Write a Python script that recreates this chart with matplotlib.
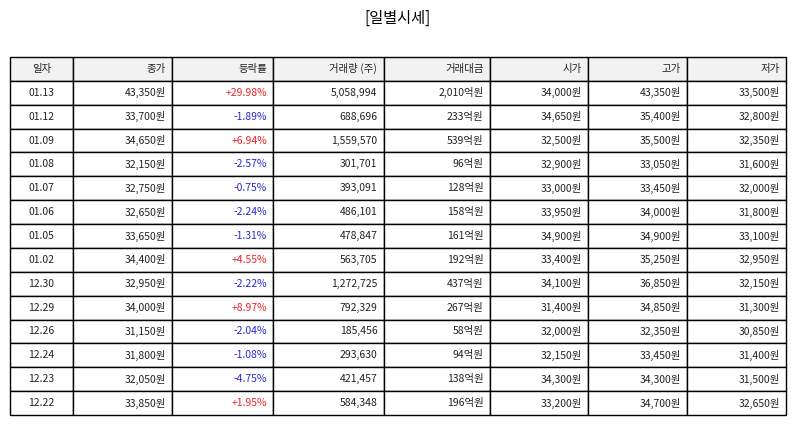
import matplotlib
matplotlib.use("Agg")
import matplotlib.pyplot as plt

plt.rcParams['font.family'] = ['Noto Sans CJK KR', 'DejaVu Sans']

headers = ["일자", "종가", "등락률", "거래량 (주)", "거래대금", "시가", "고가", "저가"]
dates = ["01.13","01.12","01.09","01.08","01.07","01.06","01.05","01.02","12.30","12.29","12.26","12.24","12.23","12.22"]
close = ["43,350원","33,700원","34,650원","32,150원","32,750원","32,650원","33,650원","34,400원","32,950원","34,000원","31,150원","31,800원","32,050원","33,850원"]
change = ["+29.98%","-1.89%","+6.94%","-2.57%","-0.75%","-2.24%","-1.31%","+4.55%","-2.22%","+8.97%","-2.04%","-1.08%","-4.75%","+1.95%"]
volume = ["5,058,994","688,696","1,559,570","301,701","393,091","486,101","478,847","563,705","1,272,725","792,329","185,456","293,630","421,457","584,348"]
amount = ["2,010억원","233억원","539억원","96억원","128억원","158억원","161억원","192억원","437억원","267억원","58억원","94억원","138억원","196억원"]
open_ = ["34,000원","34,650원","32,500원","32,900원","33,000원","33,950원","34,900원","33,400원","34,100원","31,400원","32,000원","32,150원","34,300원","33,200원"]
high = ["43,350원","35,400원","35,500원","33,050원","33,450원","34,000원","34,900원","35,250원","36,850원","34,850원","32,350원","33,450원","34,300원","34,700원"]
low = ["33,500원","32,800원","32,350원","31,600원","32,000원","31,800원","33,100원","32,950원","32,150원","31,300원","30,850원","31,400원","31,500원","32,650원"]

W, H = 795, 425
fig = plt.figure(figsize=(W/100, H/100), dpi=100)
ax = fig.add_axes([0, 0, 1, 1])
ax.axis('off')

bounds = [10, 73, 172, 273, 384, 490, 588, 687, 786]
top, bottom = 57, 415
widths = [(bounds[i+1]-bounds[i]) / (bounds[-1]-bounds[0]) for i in range(8)]

rows = [list(r) for r in zip(dates, close, change, volume, amount, open_, high, low)]
tbl = ax.table(cellText=rows, colLabels=headers, colWidths=widths,
               bbox=[bounds[0]/W, 1-bottom/H, (bounds[-1]-bounds[0])/W, (bottom-top)/H])
tbl.auto_set_font_size(False)
tbl.set_fontsize(7.5)
for (r, c), cell in tbl.get_celld().items():
    cell.set_linewidth(1.0)
    cell.set_edgecolor('black')
    cell.PAD = 0.06
    txt = cell.get_text()
    if c == 0:
        txt.set_ha('center'); cell._loc = 'center'
    else:
        txt.set_ha('right'); cell._loc = 'right'
    if r == 0:
        cell.set_facecolor('#f2f2f2')
    else:
        if c == 2:
            txt.set_color('#e8262a' if change[r-1].startswith('+') else '#2a2ad0')
    txt.set_color(txt.get_color() if (c == 2 and r > 0) else '#222222')

fig.text(0.5, 1-18/H, "[일별시세]", ha='center', va='center', fontsize=11)
fig.savefig("out.png", dpi=100, facecolor='white')
